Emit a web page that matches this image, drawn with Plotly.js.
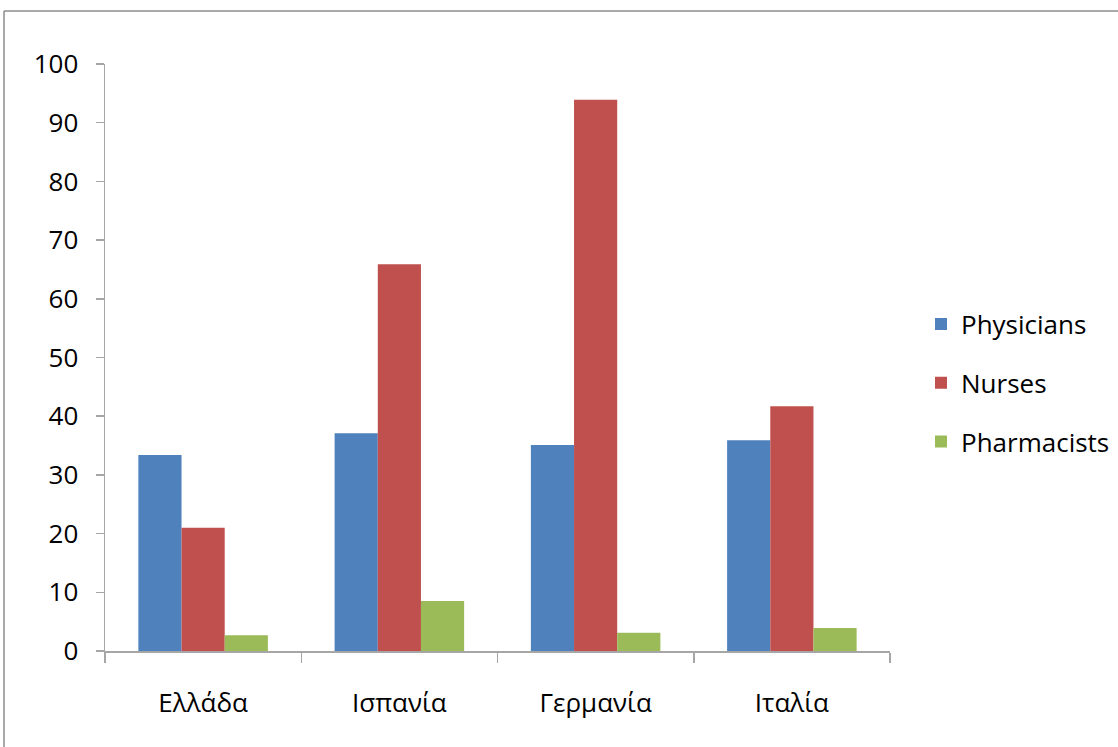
<!DOCTYPE html>
<html>
<head>
<meta charset="utf-8">
<script src="https://cdn.plot.ly/plotly-3.0.1.min.js"></script>
<style>
html,body{margin:0;padding:0;background:#fff;overflow:hidden;}
#chart{width:1118px;height:747px;}
</style>
</head>
<body>
<div id="chart"></div>
<script>
const countries = ["Ελλάδα", "Ισπανία", "Γερμανία", "Ιταλία"];
const physicians = [33.4, 37.1, 35.1, 35.9];
const nurses = [21.0, 65.9, 93.9, 41.7];
const pharmacists = [2.7, 8.5, 3.1, 3.9];
const seriesNames = ["Physicians", "Nurses", "Pharmacists"];
const seriesColors = ["#4F81BD", "#C0504D", "#9BBB59"];
const yTicks = [0, 10, 20, 30, 40, 50, 60, 70, 80, 90, 100];

const allValues = [physicians, nurses, pharmacists];
const traces = allValues.map((vals, i) => ({
  type: "bar",
  x: countries,
  y: vals,
  name: seriesNames[i],
  legendgroup: "g" + i,
  marker: {color: seriesColors[i], line: {width: 0}},
  hoverinfo: "x+y+name"
}));

const W = 1118, H = 747;
const L = 105, R = W - 890, T = 64, B = H - 651;
const pw = W - L - R, ph = H - T - B;
const px = v => (v - L) / pw;
const py = v => (H - B - v) / ph;

const layout = {
  width: W, height: H,
  margin: {l: L, r: R, t: T, b: B, pad: 0, autoexpand: false},
  paper_bgcolor: "#fff",
  plot_bgcolor: "#fff",
  font: {family: "Open Sans, Noto Sans, sans-serif", size: 26, color: "#000"},
  barmode: "group",
  bargap: 0.34,
  bargroupgap: 0,
  showlegend: true,
  legend: {
    x: px(921), xanchor: "left",
    y: py(383), yanchor: "middle",
    font: {size: 26, color: "#000"},
    traceorder: "grouped",
    tracegroupgap: 22,
    itemwidth: 30,
    bgcolor: "rgba(0,0,0,0)"
  },
  xaxis: {
    type: "category",
    automargin: false,
    showline: true, linecolor: "#a6a6a6", linewidth: 1.5,
    ticks: "outside", tickson: "boundaries", ticklen: 10, tickcolor: "#a6a6a6", tickwidth: 1.5,
    showgrid: false, zeroline: false,
    ticklabelstandoff: 28,
    tickfont: {size: 26, color: "#000"},
    fixedrange: true
  },
  yaxis: {
    range: [0, 100],
    automargin: false,
    tickvals: yTicks,
    ticktext: yTicks.map(String),
    showline: true, linecolor: "#a6a6a6", linewidth: 1.5,
    ticks: "outside", ticklen: 8, tickcolor: "#a6a6a6", tickwidth: 1.5,
    showgrid: false, zeroline: false,
    ticklabelstandoff: 12,
    tickfont: {size: 26, color: "#000"},
    fixedrange: true
  },
  shapes: [
    {type: "line", xref: "paper", yref: "paper", x0: px(4), x1: px(4), y0: py(11), y1: py(760), line: {color: "#8c8c8c", width: 1.5}},
    {type: "line", xref: "paper", yref: "paper", x0: px(4), x1: px(1130), y0: py(11), y1: py(11), line: {color: "#8c8c8c", width: 1.5}},
    {type: "line", xref: "paper", yref: "paper", x0: px(105), x1: px(105), y0: py(651), y1: py(662), line: {color: "#a6a6a6", width: 1.5}}
  ]
};

Plotly.newPlot("chart", traces, layout, {displayModeBar: false, staticPlot: true});
</script>
</body>
</html>
